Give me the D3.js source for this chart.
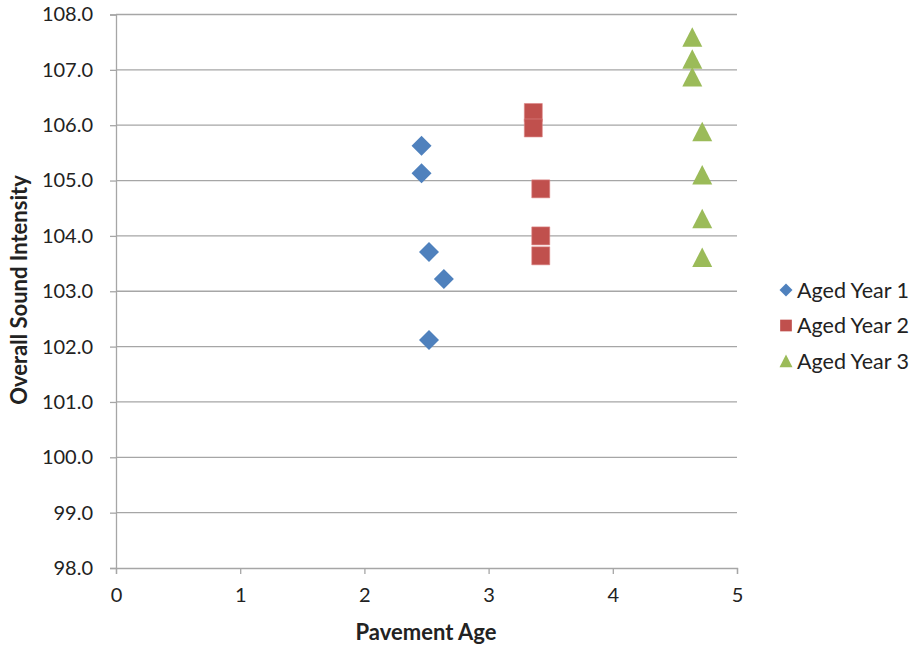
<!DOCTYPE html>
<html><head><meta charset="utf-8">
<script src="https://cdn.jsdelivr.net/npm/d3@7"></script>
<style>body{margin:0;background:#fff;} text{font-family:Lato,"Liberation Sans",sans-serif;}</style>
</head><body><svg id="c" width="914" height="649"></svg>
<script>
const seriesNames = ["Aged Year 1","Aged Year 2","Aged Year 3"];
const colors = ["#4F81BD","#C0504D","#9BBB59"];
const year1X = [2.46,2.46,2.52,2.64,2.52];
const year1Y = [105.63,105.13,103.71,103.22,102.12];
const year2X = [3.36,3.36,3.42,3.42,3.42];
const year2Y = [106.23,105.95,104.85,104.00,103.64];
const year3X = [4.64,4.64,4.64,4.72,4.72,4.72,4.72];
const year3Y = [107.59,107.19,106.87,105.88,105.10,104.31,103.61];
const xTicks = [0,1,2,3,4,5];
const yTicks = [98,99,100,101,102,103,104,105,106,107,108];

const FONT = "Lato,'Liberation Sans',sans-serif";
const svg = d3.select("#c");
const L=116,R=737,T=14.5,B=568;
const x = d3.scaleLinear().domain([0,5]).range([L,R]);
const y = d3.scaleLinear().domain([98,108]).range([B,T]);

svg.append("g").selectAll("line").data(yTicks.filter(d=>d>98)).join("line")
 .attr("x1",L).attr("x2",R).attr("y1",d=>y(d)).attr("y2",d=>y(d))
 .attr("stroke","#A6A6A6").attr("stroke-width",1.3);

const yAxis = svg.append("g").attr("transform",`translate(${L},0)`)
 .call(d3.axisLeft(y).tickValues(yTicks).tickFormat(d3.format(".1f")).tickSizeOuter(0).tickSize(6).tickPadding(17));
const xAxis = svg.append("g").attr("transform",`translate(0,${B})`)
 .call(d3.axisBottom(x).tickValues(xTicks).tickFormat(d3.format("d")).tickSizeOuter(0).tickSize(6).tickPadding(14));
[yAxis,xAxis].forEach(a=>{
 a.attr("font-size",null).attr("font-family",null);
 a.select(".domain").attr("stroke","#A6A6A6").attr("stroke-width",1.3);
 a.selectAll(".tick line").attr("stroke","#A6A6A6").attr("stroke-width",1.3);
 a.selectAll("text").style("font-size","20px").attr("fill","#222").style("font-family",FONT);
});

const data = [
 year1X.map((v,i)=>({x:v,y:year1Y[i]})),
 year2X.map((v,i)=>({x:v,y:year2Y[i]})),
 year3X.map((v,i)=>({x:v,y:year3Y[i]}))
];
function sym(i){
  if(i===1) return "M-9,-9H9V9H-9Z";
  if(i===0) return "M0,-10L10,0L0,10L-10,0Z";
  return "M0,-10L10,9.5L-10,9.5Z";
}
data.forEach((s,i)=>{
 svg.append("g").selectAll("path").data(s).join("path")
  .attr("d",sym(i))
  .attr("transform",d=>`translate(${x(d.x)},${y(d.y)})`)
  .attr("fill",colors[i]).attr("stroke",i===1?"#d88":"none").attr("stroke-width",0.6);
});

const lg = svg.append("g");
seriesNames.forEach((n,i)=>{
 const yy = 290 + i*35.5;
 lg.append("path").attr("d",sym(i)).attr("transform",`translate(786,${yy}) scale(0.65)`).attr("fill",colors[i]);
 lg.append("text").attr("x",797).attr("y",yy).attr("dy","0.35em").style("font-size","21.5px").attr("fill","#222").style("font-family",FONT).text(n);
});

svg.append("text").attr("transform","translate(27,290) rotate(-90)").attr("text-anchor","middle")
 .style("font-size","22px").attr("font-weight","bold").attr("fill","#222").style("font-family",FONT).text("Overall Sound Intensity");
svg.append("text").attr("x",426).attr("y",640).attr("text-anchor","middle")
 .style("font-size","22px").attr("font-weight","bold").attr("fill","#222").style("font-family",FONT).text("Pavement Age");
</script></body></html>
